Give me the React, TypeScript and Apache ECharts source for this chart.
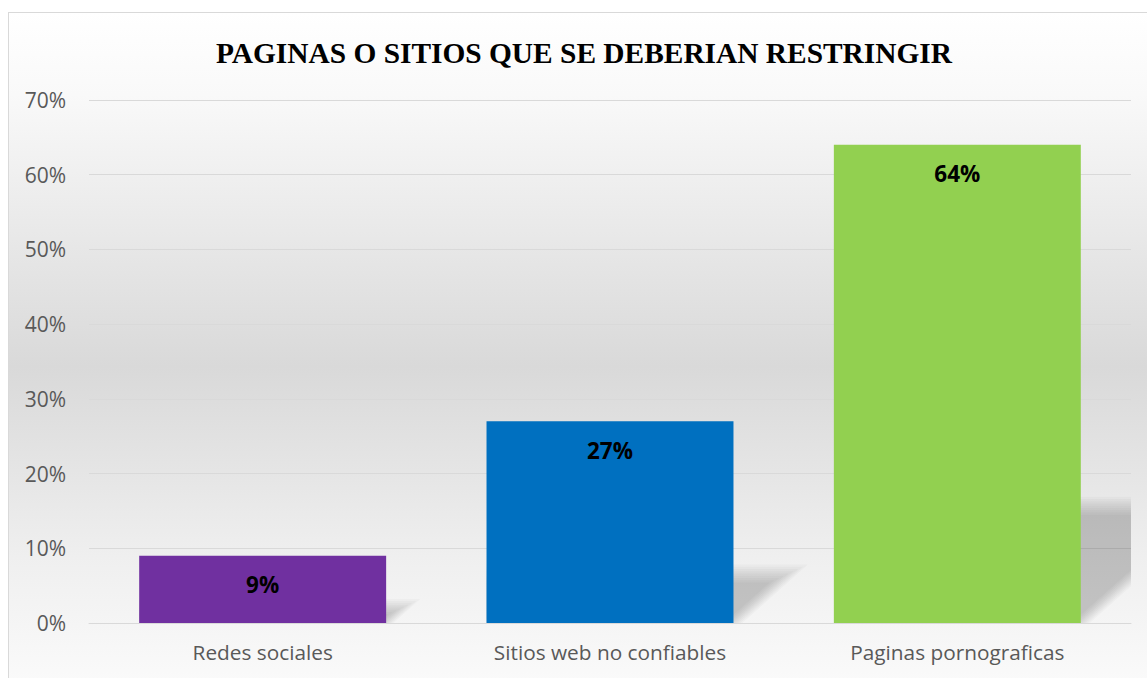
import React, { useEffect, useRef } from "react";
import * as echarts from "echarts";

const TITLE = "PAGINAS O SITIOS QUE SE DEBERIAN RESTRINGIR";
const categories = ["Redes sociales", "Sitios web no confiables", "Paginas pornograficas"];
const values = [9, 27, 64];
const barColors = ["#7030a0", "#0070c0", "#92d050"];
const yMin = 0;
const yMax = 70;
const yInterval = 10;

function clipRight(pts: number[][], xmax: number): number[][] {
  const out: number[][] = [];
  for (let i = 0; i < pts.length; i++) {
    const a = pts[i];
    const b = pts[(i + 1) % pts.length];
    const ain = a[0] <= xmax;
    const bin = b[0] <= xmax;
    if (ain) out.push(a);
    if (ain !== bin) {
      const t = (xmax - a[0]) / (b[0] - a[0]);
      out.push([xmax, a[1] + t * (b[1] - a[1])]);
    }
  }
  return out;
}

export default function App() {
  const ref = useRef<HTMLDivElement>(null);
  useEffect(() => {
    document.body.style.margin = "0";
    const chart = echarts.init(ref.current!, undefined, { renderer: "svg" });
    const BAR_RATIO = 0.711;
    chart.setOption({
      animation: false,
      backgroundColor: {
        type: "linear",
        x: 0,
        y: 0,
        x2: 0,
        y2: 1,
        colorStops: [
          { offset: 0, color: "#ffffff" },
          { offset: 0.12, color: "#f9f9f9" },
          { offset: 0.52, color: "#d9d9d9" },
          { offset: 0.8, color: "#efefef" },
          { offset: 1, color: "#fbfbfb" },
        ],
      },
      title: {
        text: TITLE,
        left: "center",
        top: 20,
        textStyle: {
          fontFamily: "Liberation Serif",
          fontWeight: "bold",
          fontSize: 29.4,
          color: "#000000",
        },
      },
      grid: { left: 80, top: 87, width: 1042, height: 523 },
      xAxis: {
        type: "category",
        data: categories,
        axisLine: { show: true, lineStyle: { color: "#d9d9d9", width: 1 } },
        axisTick: { show: false },
        axisLabel: {
          color: "#595959",
          fontFamily: "Open Sans",
          fontSize: 20.8,
          margin: 18,
        },
      },
      yAxis: {
        type: "value",
        min: yMin,
        max: yMax,
        interval: yInterval,
        axisLine: { show: false },
        axisTick: { show: false },
        splitLine: { lineStyle: { color: "#d9d9d9", width: 1 } },
        axisLabel: {
          formatter: "{value}%",
          color: "#595959",
          fontFamily: "Open Sans",
          fontSize: 21,
          margin: 23,
        },
      },
      series: [
        {
          type: "custom",
          z: 1,
          silent: true,
          data: values.map((v, i) => [i, v]),
          renderItem: (params: any, api: any) => {
            const idx = api.value(0);
            const v = api.value(1);
            const base = api.coord([idx, 0]);
            const top = api.coord([idx, v]);
            const band = api.size([1, 0])[0];
            const bw = band * BAR_RATIO;
            const xL = base[0] - bw / 2;
            const xR = base[0] + bw / 2;
            const y0 = base[1];
            const h = y0 - top[1];
            const hs = h * 0.245;
            const k = 1.12;
            const cs = params.coordSys;
            const xmax = cs.x + cs.width;
            const blur = Math.min(9, hs * 0.45);
            const layers = 9;
            const children: any[] = [];
            for (let j = 0; j < layers; j++) {
              const d = -blur + (2 * blur * j) / (layers - 1);
              const yT = y0 - hs + d;
              const yB = y0 - Math.max(d, 0) * 0.6;
              if (yB - yT < 1) continue;
              const xAt = (y: number) => xR + k * (y0 - y) - d;
              const pts = clipRight(
                [
                  [xL, yB],
                  [xAt(yB), yB],
                  [xAt(yT), yT],
                  [xL, yT],
                ],
                xmax
              );
              children.push({
                type: "polygon",
                shape: { points: pts },
                style: { fill: "rgba(0,0,0,0.024)" },
              });
            }
            return { type: "group", children };
          },
        },
        {
          type: "bar",
          z: 2,
          barWidth: "71.1%",
          data: values.map((v, i) => ({ value: v, itemStyle: { color: barColors[i] } })),
          label: {
            show: true,
            position: "insideTop",
            distance: 17.5,
            formatter: "{c}%",
            color: "#000000",
            fontFamily: "Open Sans",
            fontWeight: "bold",
            fontSize: 22.5,
          },
        },
      ],
    });
    return () => chart.dispose();
  }, []);
  return (
    <div style={{ position: "fixed", left: 0, top: 0, width: 1147, height: 678, overflow: "hidden" }}>
      <div
        style={{
          position: "absolute",
          left: 8,
          top: 12,
          width: 1150,
          height: 680,
          border: "1px solid #d9d9d9",
        }}
      >
        <div ref={ref} style={{ width: 1150, height: 680 }} />
      </div>
    </div>
  );
}
